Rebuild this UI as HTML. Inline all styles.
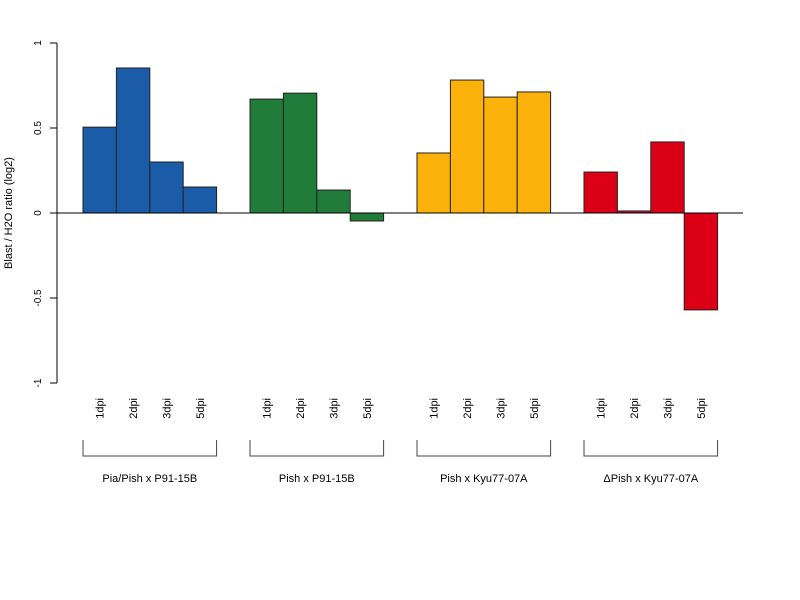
<!DOCTYPE html>
<html><head><meta charset="utf-8"><style>
body{margin:0;background:#fff}
svg{display:block;font-family:"Liberation Sans",sans-serif}
</style></head><body>
<svg id="chart" width="800" height="600"></svg>
<script>
const groups = ["Pia/Pish x P91-15B","Pish x P91-15B","Pish x Kyu77-07A","\u0394Pish x Kyu77-07A"];
const timepoints = ["1dpi","2dpi","3dpi","5dpi"];
const values = [
  [0.505, 0.853, 0.30, 0.153],
  [0.67, 0.705, 0.135, -0.047],
  [0.353, 0.782, 0.682, 0.712],
  [0.241, 0.012, 0.418, -0.57]
];
const colors = ["#1a5ca8","#217c3a","#fdb10b","#dc0016"];
const yTicks = [-1, -0.5, 0, 0.5, 1];
const yTickLabels = ["-1","-0.5","0","0.5","1"];

const NS = "http://www.w3.org/2000/svg";
const svg = document.getElementById('chart');
function y(v){ return 213 - v*170; }
const barW = 33.4, x0 = 83;
function x(slot){ return x0 + slot*barW; }
function mk(tag, attrs, parent){
  const e = document.createElementNS(NS, tag);
  for (const k in attrs) e.setAttribute(k, attrs[k]);
  (parent||svg).appendChild(e); return e;
}
// y axis
const ax = mk('line',{x1:57,y1:y(1),x2:57,y2:y(-1),stroke:'#000'});


yTicks.forEach((t,i)=>{
  const tk = mk('line',{x1:50,x2:57,y1:y(t),y2:y(t),stroke:'#000'});
  
  
  const tl = mk('text',{x:0,y:0,'font-size':10,'text-anchor':'middle',transform:`translate(41,${y(t)}) rotate(-90)`});
  tl.textContent = yTickLabels[i];
  
  
});
const yt = mk('text',{x:0,y:0,'font-size':11,'text-anchor':'middle',transform:'translate(12,213) rotate(-90)'});
yt.textContent = "Blast / H2O ratio (log2)";


// bars
values.forEach((series,g)=>{
  series.forEach((v,i)=>{
    const slot = g*5 + i;
    const top = Math.min(y(v), y(0)), h = Math.abs(y(v)-y(0));
    const r = mk('rect',{x:x(slot),y:top,width:barW,height:h,fill:colors[g],stroke:'#222','stroke-width':1});
    
    
    const cx = x(slot)+barW/2;
    const lt = mk('text',{x:0,y:0,'font-size':11,'text-anchor':'end',transform:`translate(${cx+4},${398}) rotate(-90)`});
    lt.textContent = timepoints[i];
    
    
  });
  const bx1 = x(g*5), bx2 = x(g*5+4);
  const br = mk('path',{d:`M${bx1},440 V456 H${bx2} V440`,fill:'none',stroke:'#444'});
  
  
  const gl = mk('text',{x:(bx1+bx2)/2,y:482,'font-size':11,'text-anchor':'middle'});
  gl.textContent = groups[g];
  
  
});
// zero line
const zl = mk('line',{x1:57,x2:743,y1:y(0),y2:y(0),stroke:'#000'});


</script>
</body></html>
